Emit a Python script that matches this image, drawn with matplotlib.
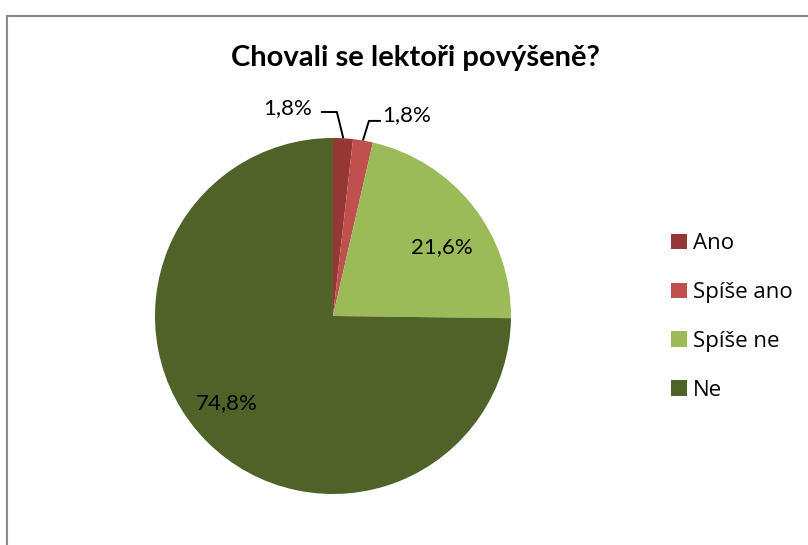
import numpy as np
import matplotlib.pyplot as plt
from matplotlib.patches import Rectangle, Patch

categories = ['Ano', 'Spíše ano', 'Spíše ne', 'Ne']
values = [1.8, 1.8, 21.6, 74.8]
labels = ['1,8%', '1,8%', '21,6%', '74,8%']
colors = ['#953735', '#C0504D', '#9BBB59', '#4F6228']

narrow = ['Lato', 'DejaVu Sans']
legend_font = ['Open Sans', 'DejaVu Sans']

fig = plt.figure(figsize=(8.08, 5.45), dpi=100)

# chart frame
fig.patches.append(Rectangle((6.5 / 808, -0.01), 1.0, 1 - 15.5 / 545 + 0.01,
                             transform=fig.transFigure, fill=False,
                             edgecolor='#888888', linewidth=1.5))

ax = fig.add_axes([0.1918, 0.0936, 0.4406, 0.6532])
wedges, _ = ax.pie(values, colors=colors, startangle=90, counterclock=False,
                   radius=1.0, wedgeprops=dict(linewidth=0))
ax.set_xlim(-1, 1)
ax.set_ylim(-1, 1)
ax.set_aspect('equal')
ax.axis('off')

def mid(w):
    a = np.deg2rad((w.theta1 + w.theta2) / 2)
    return np.cos(a), np.sin(a)

# inside labels for the big slices (radius, dx, dy)
for i, r, dx, dy in [(2, 0.74, 0.03, -0.07), (3, 0.77, -0.05, 0.05)]:
    cx, cy = mid(wedges[i])
    ax.text(cx * r + dx, cy * r + dy, labels[i], ha='center', va='center',
            fontsize=16, family=narrow, color='black')

# outside labels with leader lines for the small slices
leaders = [
    # elbow, end, text pos, ha
    ((0.022, 1.146), (-0.062, 1.146), (-0.115, 1.17), 'right'),
    ((0.202, 1.096), (0.264, 1.096), (0.275, 1.13), 'left'),
]
for i, (elb, end, tpos, ha) in enumerate(leaders):
    cx, cy = mid(wedges[i])
    ax.plot([cx * 1.005, elb[0], end[0]], [cy * 1.005, elb[1], end[1]],
            color='black', linewidth=1.4, clip_on=False)
    ax.text(tpos[0], tpos[1], labels[i], ha=ha, va='center',
            fontsize=16, family=narrow, color='black')

fig.text(0.514, 1 - 58 / 545, 'Chovali se lektoři povýšeně?', ha='center',
         va='center', fontsize=21, fontweight='bold', family=narrow)

handles = [Patch(facecolor=c, edgecolor='none') for c in colors]
fig.legend(handles, categories, loc='center left',
           bbox_to_anchor=(651 / 808, 1 - 317 / 545), frameon=False,
           prop={'family': legend_font, 'size': 16},
           handlelength=0.7, handleheight=0.7, handletextpad=0.3,
           labelspacing=1.25)

fig.savefig('out.png', dpi=100)
